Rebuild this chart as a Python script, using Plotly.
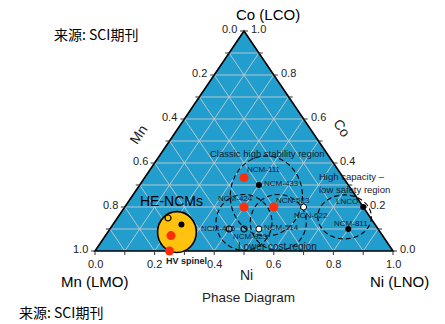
import plotly.graph_objects as go

# ---------------- data (ternary compositions: Ni, Co ; Mn = 1 - Ni - Co) -------------
red_names = ["NCM-111", "NCM-424", "NCN-523", "HE-red", "HV spinel"]
red_ni = [1/3, 0.40, 0.50, 0.22, 0.25]
red_co = [1/3, 0.20, 0.20, 0.07, 0.00]

black_names = ["NCM-433", "NCM-811", "LNCO", "HE-black"]
black_ni = [0.40, 0.80, 0.80, 0.23]
black_co = [0.30, 0.10, 0.20, 0.12]

white_names = ["NCN-622", "NCM-514"]
white_ni = [0.60, 0.50]
white_co = [0.20, 0.10]

ring_names = ["NCM-415", "NCM-929", "HE-ring"]
ring_ni = [0.40, 0.45, 0.17]
ring_co = [0.10, 0.10, 0.15]

# region outlines: centre composition and half-widths (in axis units)
region_names = ["classic", "lowcost_a", "lowcost_b", "highcap"]
region_ni = [0.45, 0.435, 0.55, 0.76]
region_co = [0.25, 0.13, 0.13, 0.155]
region_rx = [0.121, 0.094, 0.094, 0.09]
region_ry = [0.182, 0.127, 0.127, 0.10]

he_ni, he_co, he_rx, he_ry = 0.232, 0.086, 0.065, 0.093

tick_vals = [0.0, 0.2, 0.4, 0.6, 0.8, 1.0]
tick_labels = ["0.0", "0.2", "0.4", "0.6", "0.8", "1.0"]

# ---------------- geometry ----------------
W, H = 445, 324
PX0, PX1 = 95, 393     # pixel x of Mn vertex and Ni vertex
PYB, PYT = 251, 31     # pixel y of base and apex
SX = PX1 - PX0         # px per unit x
SY = PYB - PYT         # px per unit y

BLUE = "#219ECE"
GRID = "rgba(205,205,205,0.85)"
RED = "#FF2D0A"
TXT = "#222222"
LBL = "#13212e"
FONT = "Liberation Sans, Arial, sans-serif"


def cx(ni, co):
    return ni + co / 2.0


def cy(ni, co):
    return co


shapes = []
tri = [(0, 0), (1, 0), (0, 1)]  # (ni, co) of Mn, Ni, Co vertices
path = "M " + " L ".join(f"{cx(n, c)},{cy(n, c)}" for n, c in tri) + " Z"
shapes.append(dict(type="path", path=path, xref="x", yref="y", fillcolor=BLUE,
                   line=dict(width=0), layer="below"))
for k in range(1, 10):
    v = k / 10
    segs = [((0, v), (1 - v, v)),          # constant Co
            ((v, 0), (v, 1 - v)),          # constant Ni
            ((1 - v, 0), (0, 1 - v))]      # constant Mn
    for (n0, c0), (n1, c1) in segs:
        shapes.append(dict(type="line", xref="x", yref="y",
                           x0=cx(n0, c0), y0=cy(n0, c0), x1=cx(n1, c1), y1=cy(n1, c1),
                           line=dict(color=GRID, width=1), layer="below"))
shapes.append(dict(type="path", path=path, xref="x", yref="y",
                   line=dict(color="black", width=1.6), layer="below"))
for n, c, rx, ry in zip(region_ni, region_co, region_rx, region_ry):
    x, y = cx(n, c), cy(n, c)
    shapes.append(dict(type="circle", xref="x", yref="y", x0=x - rx, x1=x + rx,
                       y0=y - ry, y1=y + ry,
                       line=dict(color="black", width=1.1, dash="5px,3px"),
                       layer="below"))
x, y = cx(he_ni, he_co), cy(he_ni, he_co)
shapes.append(dict(type="circle", xref="x", yref="y", x0=x - he_rx, x1=x + he_rx,
                   y0=y - he_ry, y1=y + he_ry, fillcolor="#FFC20E",
                   line=dict(color="black", width=1.6), layer="below"))

fig = go.Figure()

tl = 4.0
tx, ty = [], []
for k in range(11):
    v = k / 10
    tx += [cx(v, 0), cx(v, 0), None]
    ty += [0, -tl / SY, None]
    tx += [cx(0, 1 - v), cx(0, 1 - v) - tl / SX, None]
    ty += [cy(0, 1 - v), cy(0, 1 - v), None]
    tx += [cx(1 - v, v), cx(1 - v, v) + tl / SX, None]
    ty += [cy(1 - v, v), cy(1 - v, v), None]
fig.add_trace(go.Scatter(x=tx, y=ty, mode="lines", line=dict(color="#333", width=1),
                         hoverinfo="skip", showlegend=False))


def pts(ni, co, **kw):
    fig.add_trace(go.Scatter(x=[cx(n, c) for n, c in zip(ni, co)],
                             y=[cy(n, c) for n, c in zip(ni, co)],
                             mode="markers", showlegend=False, cliponaxis=False, **kw))


pts(red_ni, red_co, marker=dict(size=9, color=RED, line=dict(width=0)))
pts(black_ni, black_co, marker=dict(size=6, color="black"))
pts(white_ni, white_co, marker=dict(size=6, color="white", line=dict(color="black", width=1)))
pts(ring_ni, ring_co, marker=dict(size=6, color="rgba(0,0,0,0)", line=dict(color="black", width=1.2)))

ann = []


def pxa(text, px, py, size, color=TXT, family=FONT, xanchor="center", **kw):
    ann.append(dict(text=text, x=px / W, y=1 - py / H, xref="paper", yref="paper",
                    xanchor=xanchor, yanchor="middle",
                    showarrow=False, font=dict(size=size, color=color, family=family),
                    **kw))


for v, lab in zip(tick_vals, tick_labels):
    ann.append(dict(text=lab, x=cx(v, 0), y=0, xref="x", yref="y", yshift=-13,
                    xanchor="center", yanchor="middle",
                    showarrow=False, font=dict(size=11, color=TXT, family=FONT)))
    ann.append(dict(text=lab, x=cx(0, 1 - v), y=cy(0, 1 - v), xref="x", yref="y",
                    xanchor="right", yanchor="middle", xshift=-5, yshift=2,
                    showarrow=False, font=dict(size=11, color=TXT, family=FONT)))
    ann.append(dict(text=lab, x=cx(1 - v, v), y=cy(1 - v, v), xref="x", yref="y",
                    xanchor="left", yanchor="middle", xshift=5, yshift=2,
                    showarrow=False, font=dict(size=11, color=TXT, family=FONT)))

lab_specs = [("NCM-111", 1/3, 1/3, "left", 1, 8),
             ("NCM-433", 0.40, 0.30, "left", 3, 2),
             ("NCM-424", 0.40, 0.20, "center", -9, 9),
             ("NCN-523", 0.50, 0.20, "left", 0, 7),
             ("NCN-622", 0.60, 0.20, "center", 7, -8),
             ("NCM-415", 0.40, 0.10, "center", -11, 1),
             ("NCM-929", 0.45, 0.10, "center", 6, -7),
             ("NCM-514", 0.50, 0.10, "left", 3, 2),
             ("LNCO", 0.80, 0.20, "center", -16, 6),
             ("NCM-811", 0.80, 0.10, "center", 3, 6)]
for t, n, c, xa, xs, ys in lab_specs:
    ann.append(dict(text=t, x=cx(n, c), y=cy(n, c), xref="x", yref="y", xanchor=xa,
                    yanchor="middle", xshift=xs, yshift=ys, showarrow=False,
                    font=dict(size=8, color=LBL, family=FONT)))

pxa("Classic high stability region", 267, 153, 9.5, color=LBL)
pxa("High capacity \u2013", 317, 176, 9.5, color=LBL, xanchor="left")
pxa("low safety region", 317, 189, 9.5, color=LBL, xanchor="left")
pxa("Lower cost region", 277, 246, 10, color=LBL)
pxa("HE-NCMs", 171, 201, 14, color="black")
pxa("<b>HV spinel</b>", 186, 261, 9, color=LBL)

pxa("Co (LCO)", 268, 15, 15, color="black")
pxa("Mn (LMO)", 95, 281, 15, color="black")
pxa("Ni (LNO)", 399, 281, 15, color="black")
pxa("Ni", 246, 275, 14, color=TXT)
pxa("Phase Diagram", 249, 297, 13.5, color=TXT)
pxa("Mn", 138, 135, 14, color=TXT, textangle=-56)
pxa("Co", 342, 128, 14, color=TXT, textangle=56)
pxa("来源: SCI期刊", 96, 34, 14, color="black", family="Noto Sans CJK SC")
pxa("来源: SCI期刊", 61, 312, 14, color="black", family="Noto Sans CJK SC")

fig.update_layout(
    width=W, height=H, autosize=False,
    margin=dict(l=0, r=0, t=0, b=0),
    paper_bgcolor="white", plot_bgcolor="white",
    xaxis=dict(range=[-PX0 / SX, (W - PX0) / SX], visible=False, fixedrange=True),
    yaxis=dict(range=[-(H - PYB) / SY, PYB / SY], visible=False, fixedrange=True),
    shapes=shapes, annotations=ann, showlegend=False,
)

fig.write_html("out.html")
